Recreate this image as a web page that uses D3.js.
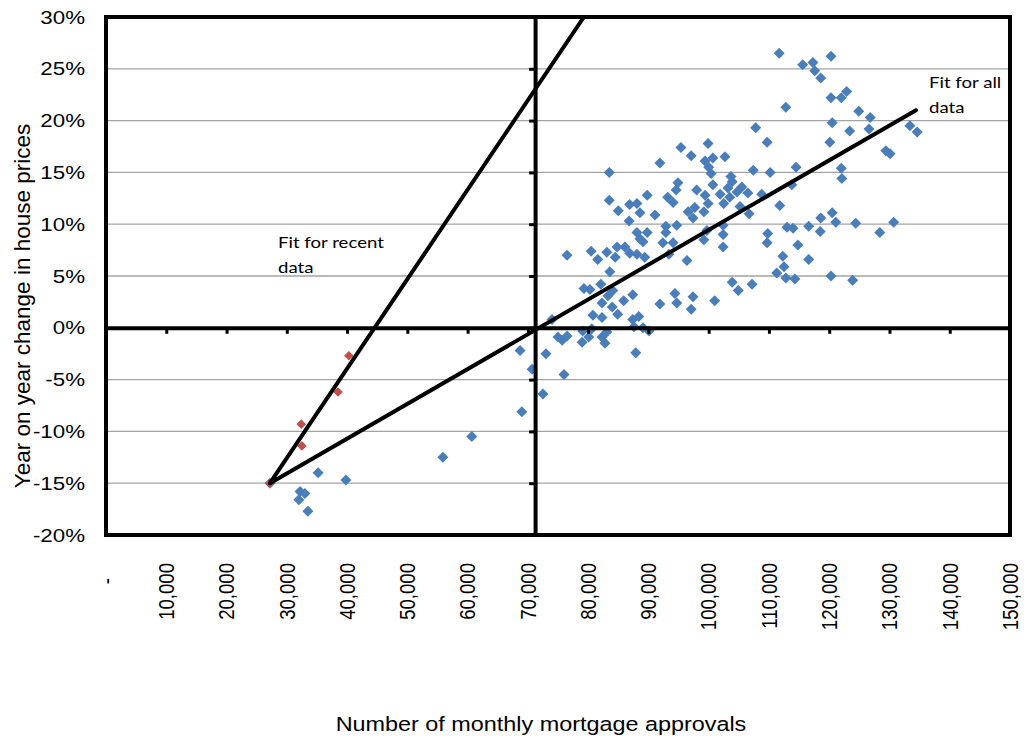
<!DOCTYPE html>
<html>
<head>
<meta charset="utf-8">
<script src="https://cdn.jsdelivr.net/npm/d3@7"></script>
<style>
  body { margin: 0; background: #fff; }
  text { font-family: "Liberation Sans", Arial, sans-serif; fill: #000; }
  .note { font-family: Lato, "Open Sans", sans-serif; }
</style>
</head>
<body>
<svg id="chart" width="1026" height="738"></svg>
<script>
// Monthly mortgage approvals vs. year-on-year house price change (%)
const approvalsAll = [
  27200, 35200, 39800, 32200, 33000, 32000, 33500, 55900, 60700, 69000,
  68700, 70700, 72500, 73000, 76000, 74000, 75000, 75700, 76500, 79000,
  79100, 80100, 80600, 82300, 82800, 83100, 87900, 87400, 88400, 87600,
  89100, 90100, 79300, 80300, 82100, 84100, 83300, 82300, 84000, 80800,
  82300, 84900, 85900, 87400, 91900, 94400, 94700, 97400, 97100, 101000,
  103900, 104900, 107200, 111300, 112500, 112800, 114300, 120300, 123900, 83600,
  112300, 116600, 114800, 109700, 109800, 76500, 80500, 81600, 83100, 84500,
  84800, 86100, 86900, 88100, 89400, 89100, 92400, 94100, 93400, 96400,
  99200, 102400, 86800, 88100, 89800, 88600, 92900, 92900, 94700, 99700,
  102400, 102400, 106700, 105200, 111800, 114000, 113000, 116600, 118500, 118600,
  120500, 121100, 124400, 130700, 128400, 83500, 85000, 86900, 88100, 88600,
  89800, 91100, 94600, 94900, 93200, 94100, 96600, 97700, 97400, 99200,
  98000, 99400, 99900, 100700, 101900, 102500, 103500, 104700, 103900, 105500,
  106500, 103200, 103700, 108800, 113800, 107400, 110200, 114500, 122000, 122100,
  100000, 100400, 83500, 91900, 95400, 99900, 97100, 99400, 100700, 102700,
  107800, 109700, 120100, 129400, 130100, 112800, 124900, 126800, 120500, 123400,
  126600, 133400, 134600, 111700, 120300, 115600, 117300, 117600, 118600, 120300,
  122000, 122900
];
const priceChangeAll = [
  -15.0, -14.0, -14.7, -15.8, -16.0, -16.6, -17.7, -12.5, -10.5, -8.1,
  -2.2, -4.0, -6.4, -2.5, -4.5, 0.8, -0.9, -1.2, -0.8, -1.4,
  -0.3, -0.9, -0.1, -0.9, -1.5, -0.4, -2.4, 0.8, 1.1, 0.1,
  0.0, -0.3, 3.8, 3.7, 4.2, 3.6, 3.1, 2.4, 2.0, 1.2,
  1.0, 1.3, 2.6, 3.2, 2.3, 3.3, 2.4, 3.0, 1.8, 2.6,
  4.4, 3.6, 4.2, 5.3, 5.9, 4.8, 4.7, 5.0, 4.6, 5.4,
  6.9, 6.6, 8.0, 8.2, 9.1, 7.0, 7.4, 6.6, 7.3, 6.8,
  7.8, 7.8, 7.2, 7.1, 6.8, 8.3, 8.2, 8.2, 7.1, 6.5,
  8.5, 7.8, 10.3, 9.2, 9.2, 8.6, 9.8, 9.2, 9.9, 9.4,
  9.9, 9.0, 11.0, 11.7, 11.8, 9.6, 9.7, 9.8, 9.3, 10.6,
  11.1, 10.2, 10.1, 10.2, 9.2, 12.3, 11.3, 11.9, 12.0, 11.1,
  12.8, 10.9, 13.3, 14.0, 12.6, 12.1, 11.2, 11.6, 10.6, 11.2,
  13.3, 12.8, 12.0, 13.8, 12.9, 12.0, 12.6, 13.1, 14.1, 13.6,
  13.0, 13.5, 14.6, 12.9, 13.8, 15.2, 15.0, 15.5, 15.4, 14.4,
  15.5, 14.9, 15.0, 15.9, 17.4, 17.8, 16.6, 16.1, 16.4, 16.5,
  19.3, 17.9, 17.9, 17.1, 16.8, 21.3, 20.9, 20.3, 19.8, 19.0,
  19.2, 19.5, 18.9, 26.5, 26.2, 25.4, 25.6, 24.8, 24.1, 22.2,
  22.2, 22.8
];
const approvalsRecent = [27200, 32500, 32400, 38500, 40300];
const priceChangeRecent = [-15.0, -11.4, -9.3, -6.2, -2.7];

// Trend line end points
const fitAllApprovals = [27200, 134400];
const fitAllChange = [-15.0, 21.0];
const fitRecentApprovals = [27200, 79300];
const fitRecentChange = [-15.0, 30.0];

const xTickValues = [0, 10000, 20000, 30000, 40000, 50000, 60000, 70000,
  80000, 90000, 100000, 110000, 120000, 130000, 140000, 150000];
const yTickValues = [-20, -15, -10, -5, 0, 5, 10, 15, 20, 25, 30];
const verticalAxisAt = 71200;

const svg = d3.select("#chart");
const plot = { left: 106, top: 17, right: 1010, bottom: 535 };
const wide = 1.2; // horizontal widening of the chart lettering

const x = d3.scaleLinear().domain([0, 150000]).range([plot.left, plot.right]);
const y = d3.scaleLinear().domain([-20, 30]).range([plot.bottom, plot.top]);

svg.append("clipPath").attr("id", "plotClip")
  .append("rect")
  .attr("x", plot.left).attr("y", plot.top)
  .attr("width", plot.right - plot.left).attr("height", plot.bottom - plot.top);

// Horizontal gridlines
svg.append("g").selectAll("line")
  .data(yTickValues.filter(v => v !== 0 && v !== -20 && v !== 30))
  .join("line")
  .attr("x1", plot.left).attr("x2", plot.right)
  .attr("y1", d => y(d)).attr("y2", d => y(d))
  .attr("stroke", "#a3a3a3").attr("stroke-width", 1.3);

// Y tick labels on the left edge
const fmtPct = d => d + "%";
svg.append("g").selectAll("text")
  .data(yTickValues)
  .join("text")
  .attr("transform", d => `translate(85,${y(d)}) scale(${wide},1)`)
  .attr("dy", "0.35em")
  .attr("text-anchor", "end")
  .style("font-size", "18.6px")
  .text(fmtPct);

// X tick labels, rotated, below the plot
const fmtNum = d3.format(",");
svg.append("g").selectAll("text")
  .data(xTickValues)
  .join("text")
  .attr("transform", d => `translate(${x(d)},${d === 0 ? 578 : 563}) scale(${wide},1) rotate(-90)`)
  .attr("dy", "0.35em")
  .attr("text-anchor", "end")
  .style("font-size", "18.6px")
  .text(d => d === 0 ? "-" : fmtNum(d));

// Markers
const diamond = "M0,-5.5L5.5,0L0,5.5L-5.5,0Z";
const marks = svg.append("g").attr("clip-path", "url(#plotClip)");
marks.selectAll("path.all")
  .data(approvalsAll.map((a, i) => [a, priceChangeAll[i]]))
  .join("path")
  .attr("class", "all")
  .attr("d", diamond)
  .attr("transform", d => `translate(${x(d[0])},${y(d[1])})`)
  .attr("fill", "#4a7ebb");
marks.selectAll("path.recent")
  .data(approvalsRecent.map((a, i) => [a, priceChangeRecent[i]]))
  .join("path")
  .attr("class", "recent")
  .attr("d", "M0,-4.8L4.8,0L0,4.8L-4.8,0Z")
  .attr("transform", d => `translate(${x(d[0])},${y(d[1])})`)
  .attr("fill", "#c0504d");

// Axes crossing inside the plot: horizontal at 0%, vertical at verticalAxisAt
const xAxis = d3.axisBottom(x).tickValues(xTickValues).tickSize(6).tickFormat("").tickSizeOuter(0);
const gx = svg.append("g").attr("transform", `translate(0,${y(0)})`).call(xAxis);
gx.select(".domain").attr("stroke", "#000").attr("stroke-width", 4);
gx.selectAll(".tick line").attr("stroke", "#000").attr("stroke-width", 3);

const yAxis = d3.axisLeft(y).tickValues(yTickValues).tickSize(6).tickFormat("").tickSizeOuter(0);
const gy = svg.append("g").attr("transform", `translate(${x(verticalAxisAt)},0)`).call(yAxis);
gy.select(".domain").attr("stroke", "#000").attr("stroke-width", 4);
gy.selectAll(".tick line").attr("stroke", "#000").attr("stroke-width", 3);

// Trend lines
const line = d3.line().x(d => x(d[0])).y(d => y(d[1]));
const lines = svg.append("g").attr("clip-path", "url(#plotClip)");
lines.append("path")
  .datum(fitAllApprovals.map((a, i) => [a, fitAllChange[i]]))
  .attr("d", line).attr("fill", "none")
  .attr("stroke", "#000").attr("stroke-width", 4).attr("stroke-linecap", "round");
lines.append("path")
  .datum(fitRecentApprovals.map((a, i) => [a, fitRecentChange[i]]))
  .attr("d", line).attr("fill", "none")
  .attr("stroke", "#000").attr("stroke-width", 4).attr("stroke-linecap", "round");

// Plot frame
svg.append("rect")
  .attr("x", plot.left).attr("y", plot.top)
  .attr("width", plot.right - plot.left).attr("height", plot.bottom - plot.top)
  .attr("fill", "none").attr("stroke", "#000").attr("stroke-width", 4);

// Trend line annotations
const noteLines = [
  ["Fit for recent", 278, 248], ["data", 278, 273],
  ["Fit for all", 929, 88], ["data", 929, 113]
];
svg.append("g").selectAll("text")
  .data(noteLines)
  .join("text")
  .attr("class", "note")
  .attr("transform", d => `translate(${d[1]},${d[2]}) scale(${wide},1)`)
  .style("font-size", "15.5px")
  .text(d => d[0]);

// Axis titles
svg.append("text")
  .attr("transform", "translate(30,306) rotate(-90)")
  .attr("text-anchor", "middle")
  .style("font-size", "22.5px")
  .text("Year on year change in house prices");
svg.append("text")
  .attr("transform", `translate(541,731) scale(${wide},1)`)
  .attr("text-anchor", "middle")
  .style("font-size", "19.5px")
  .text("Number of monthly mortgage approvals");
</script>
</body>
</html>
